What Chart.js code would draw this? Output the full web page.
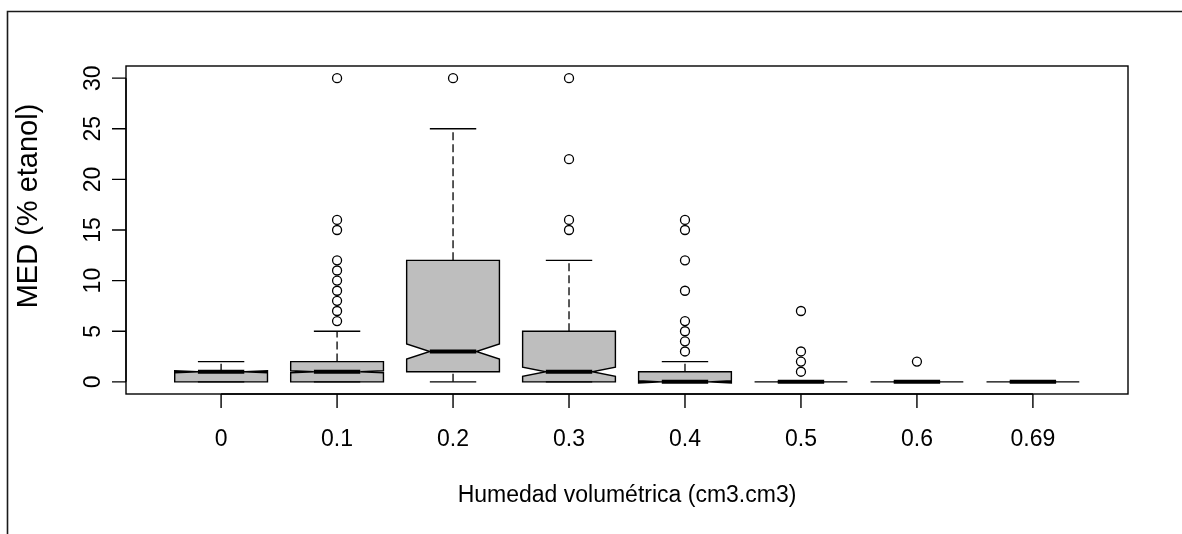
<!DOCTYPE html>
<html>
<head>
<meta charset="utf-8">
<title>MED vs humedad volumétrica</title>
<script src="https://cdn.jsdelivr.net/npm/chart.js@4.4.1/dist/chart.umd.min.js"></script>
<style>
  html, body { margin: 0; padding: 0; background: #ffffff; }
  #wrap { position: relative; width: 1182px; height: 534px; }
  canvas { display: block; }
</style>
</head>
<body>
<div id="wrap"><canvas id="chart" width="1182" height="534"></canvas></div>
<script>
// Groups of volumetric soil moisture (cm3.cm3)
const categories = ['0', '0.1', '0.2', '0.3', '0.4', '0.5', '0.6', '0.69'];

// Five-number summaries of MED (% etanol) per group
const lowerWhisker = [0, 0, 0, 0, 0, 0, 0, 0];
const lowerQuartile = [0, 0, 1, 0, 0, 0, 0, 0];
const medians = [1, 1, 3, 1, 0, 0, 0, 0];
const upperQuartile = [1, 2, 12, 5, 1, 0, 0, 0];
const upperWhisker = [2, 5, 25, 12, 2, 0, 0, 0];

// Notch limits around each median
const notchLow = [0.9, 0.9, 2.25, 0.55, -0.12, 0, 0, 0];
const notchHigh = [1.1, 1.1, 3.75, 1.45, 0.12, 0, 0, 0];

// Points beyond the whiskers
const outliers = [
  [],
  [6, 7, 8, 9, 10, 11, 12, 15, 16, 30],
  [30],
  [15, 16, 22, 30],
  [3, 4, 5, 6, 9, 12, 15, 16],
  [1, 2, 3, 7],
  [2],
  []
];

const yTicks = [0, 5, 10, 15, 20, 25, 30];
const xTitle = 'Humedad volumétrica (cm3.cm3)';
const yTitle = 'MED (% etanol)';

const FONT = '"Liberation Sans", Arial, sans-serif';
const BOX_FILL = '#bebebe';
const INK = '#000000';

const outlierPoints = [];
outliers.forEach((vals, i) => vals.forEach(v => outlierPoints.push({ x: i + 1, y: v })));

const boxplotPlugin = {
  id: 'notchedBoxplot',
  beforeDraw(chart) {
    const ctx = chart.ctx;
    ctx.save();
    ctx.fillStyle = '#ffffff';
    ctx.fillRect(0, 0, chart.width, chart.height);
    // outer frame (top and left edges)
    ctx.strokeStyle = '#1a1a1a';
    ctx.lineWidth = 1.6;
    ctx.beginPath();
    ctx.moveTo(chart.width, 11.5);
    ctx.lineTo(7.5, 11.5);
    ctx.lineTo(7.5, chart.height);
    ctx.stroke();
    ctx.restore();
  },
  beforeDatasetsDraw(chart) {
    const ctx = chart.ctx;
    const xs = chart.scales.x;
    const ys = chart.scales.y;
    const boxHalf = 0.4;      // half box width, in category units
    const notchFrac = 0.5;
    const stapleHalf = 0.2;
    ctx.save();
    categories.forEach((_, i) => {
      const c = i + 1;
      const px = xs.getPixelForValue(c);
      const w = xs.getPixelForValue(c + boxHalf) - px;
      const sw = xs.getPixelForValue(c + stapleHalf) - px;
      const Y = v => ys.getPixelForValue(v);
      const q1 = lowerQuartile[i], q3 = upperQuartile[i], med = medians[i];
      const nl = notchLow[i], nh = notchHigh[i];
      const xx = [-1, 1, 1, notchFrac, 1, 1, -1, -1, -notchFrac, -1].map(f => px + w * f);
      const yy = [q1, q1, nl, med, nh, q3, q3, nh, med, nl].map(Y);
      ctx.beginPath();
      xx.forEach((x, k) => (k ? ctx.lineTo(x, yy[k]) : ctx.moveTo(x, yy[k])));
      ctx.closePath();
      ctx.fillStyle = BOX_FILL;
      ctx.fill();
      ctx.strokeStyle = INK;
      ctx.lineWidth = 1.4;
      ctx.lineJoin = 'miter';
      ctx.stroke();

      // whiskers
      ctx.setLineDash([8, 4]);
      ctx.lineWidth = 1.3;
      ctx.beginPath();
      ctx.moveTo(px, Y(lowerWhisker[i]));
      ctx.lineTo(px, Y(q1));
      ctx.moveTo(px, Y(q3));
      ctx.lineTo(px, Y(upperWhisker[i]));
      ctx.stroke();
      ctx.setLineDash([]);

      // staples
      ctx.lineWidth = 1.4;
      ctx.beginPath();
      ctx.moveTo(px - sw, Y(lowerWhisker[i]));
      ctx.lineTo(px + sw, Y(lowerWhisker[i]));
      ctx.moveTo(px - sw, Y(upperWhisker[i]));
      ctx.lineTo(px + sw, Y(upperWhisker[i]));
      ctx.stroke();

      // median
      ctx.lineWidth = 4;
      ctx.lineCap = 'butt';
      ctx.beginPath();
      ctx.moveTo(px - w * notchFrac, Y(med));
      ctx.lineTo(px + w * notchFrac, Y(med));
      ctx.stroke();
    });
    ctx.restore();
  },
  afterDraw(chart) {
    const ctx = chart.ctx;
    const xs = chart.scales.x;
    const ys = chart.scales.y;
    const a = chart.chartArea;
    const tick = 14;
    ctx.save();
    ctx.strokeStyle = INK;
    ctx.lineWidth = 1.4;
    ctx.strokeRect(a.left, a.top, a.right - a.left, a.bottom - a.top);

    ctx.fillStyle = INK;
    ctx.font = '23px ' + FONT;

    // y axis
    ctx.beginPath();
    ctx.moveTo(a.left, ys.getPixelForValue(yTicks[0]));
    ctx.lineTo(a.left, ys.getPixelForValue(yTicks[yTicks.length - 1]));
    yTicks.forEach(v => {
      const y = ys.getPixelForValue(v);
      ctx.moveTo(a.left - tick, y);
      ctx.lineTo(a.left, y);
    });
    ctx.stroke();
    ctx.textAlign = 'center';
    ctx.textBaseline = 'alphabetic';
    yTicks.forEach(v => {
      const y = ys.getPixelForValue(v);
      ctx.save();
      ctx.translate(a.left - 26, y);
      ctx.rotate(-Math.PI / 2);
      ctx.fillText(String(v), 0, 0);
      ctx.restore();
    });

    // x axis
    const x0 = xs.getPixelForValue(1);
    const x1 = xs.getPixelForValue(categories.length);
    ctx.beginPath();
    ctx.moveTo(x0, a.bottom);
    ctx.lineTo(x1, a.bottom);
    categories.forEach((_, i) => {
      const x = xs.getPixelForValue(i + 1);
      ctx.moveTo(x, a.bottom);
      ctx.lineTo(x, a.bottom + tick);
    });
    ctx.stroke();
    categories.forEach((lab, i) => {
      ctx.fillText(lab, xs.getPixelForValue(i + 1), a.bottom + 52);
    });

    // titles
    ctx.fillText(xTitle, (a.left + a.right) / 2, a.bottom + 108);
    ctx.save();
    ctx.font = '29px ' + FONT;
    ctx.translate(a.left - 89, 206);
    ctx.rotate(-Math.PI / 2);
    ctx.fillText(yTitle, 0, 0);
    ctx.restore();
    ctx.restore();
  }
};

new Chart(document.getElementById('chart'), {
  type: 'scatter',
  data: {
    datasets: [{
      label: 'outliers',
      data: outlierPoints,
      pointStyle: 'circle',
      pointRadius: 4.5,
      pointHoverRadius: 4.5,
      pointBorderWidth: 1.3,
      pointBorderColor: INK,
      pointBackgroundColor: 'rgba(0,0,0,0)'
    }]
  },
  options: {
    responsive: false,
    animation: false,
    devicePixelRatio: 1,
    layout: { padding: { left: 126, right: 54, top: 66, bottom: 140 } },
    plugins: { legend: { display: false }, tooltip: { enabled: false } },
    events: [],
    scales: {
      x: { type: 'linear', min: 0.18, max: 8.82, display: false },
      y: { type: 'linear', min: -1.2, max: 31.2, display: false }
    }
  },
  plugins: [boxplotPlugin]
});
</script>
</body>
</html>
